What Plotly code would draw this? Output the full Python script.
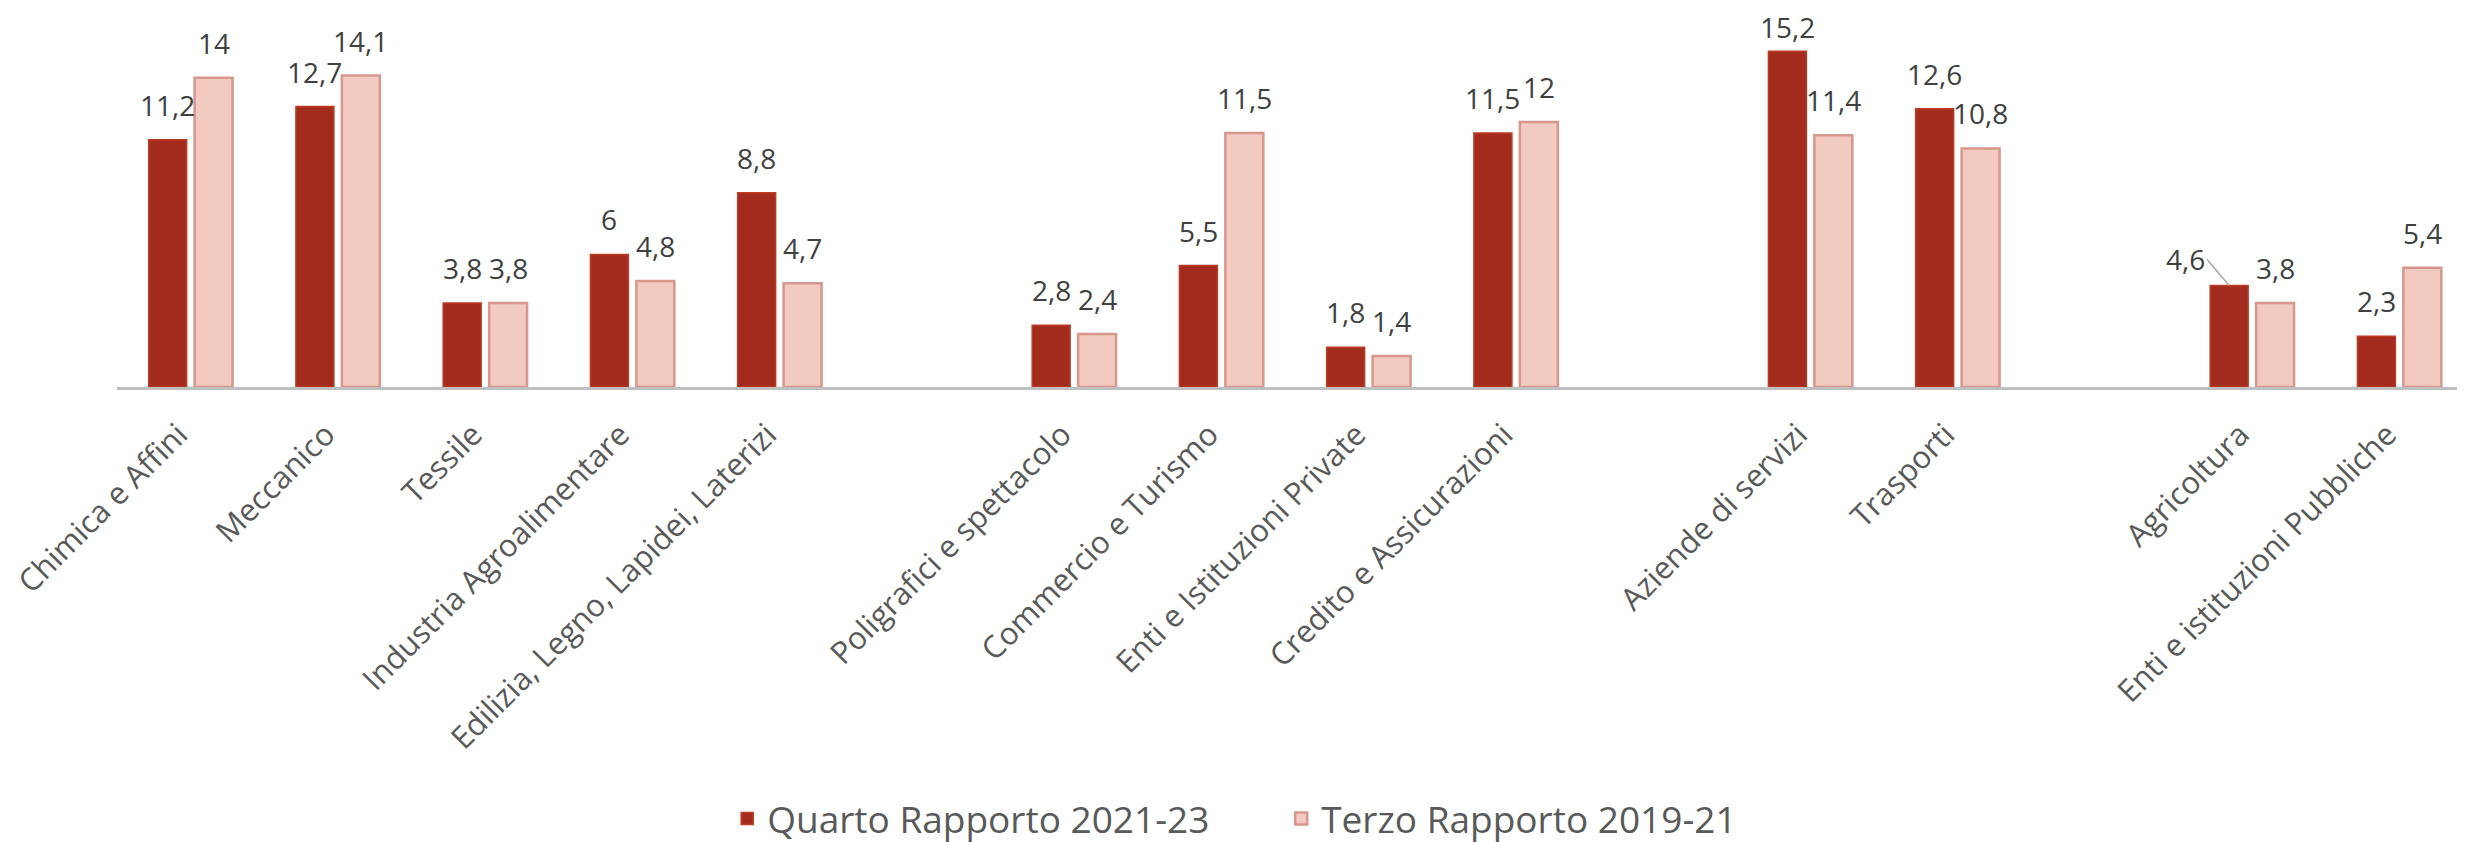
import plotly.graph_objects as go

categories = ["Chimica e Affini", "Meccanico", "Tessile", "Industria Agroalimentare",
              "Edilizia, Legno, Lapidei, Laterizi", " ",
              "Poligrafici e spettacolo", "Commercio e Turismo", "Enti e Istituzioni Private",
              "Credito e Assicurazioni", "  ",
              "Aziende di servizi", "Trasporti", "   ",
              "Agricoltura", "Enti e istituzioni Pubbliche"]
quarto = [11.2, 12.7, 3.8, 6, 8.8, None, 2.8, 5.5, 1.8, 11.5, None, 15.2, 12.6, None, 4.6, 2.3]
terzo = [14, 14.1, 3.8, 4.8, 4.7, None, 2.4, 11.5, 1.4, 12, None, 11.4, 10.8, None, 3.8, 5.4]
series_names = ["Quarto Rapporto 2021-23", "Terzo Rapporto 2019-21"]

def fmt(v):
    return ("%g" % v).replace(".", ",")

fig = go.Figure()
fig.add_trace(go.Bar(x=categories, y=quarto, name=series_names[0],
                     marker=dict(color="#A42C1E", line=dict(color="#BC3A22", width=1.5))))
fig.add_trace(go.Bar(x=categories, y=terzo, name=series_names[1],
                     marker=dict(color="#F2CABF", line=dict(color="#D7978D", width=2.5))))

lab_font = dict(family="Open Sans", size=28, color="#404040")
ann = []
for shift, vals in ((-23, quarto), (23, terzo)):
    for c, v in zip(categories, vals):
        if v is None:
            continue
        if c == "Agricoltura" and shift < 0:
            ann.append(dict(x=c, y=v, xref="x", yref="y", text=fmt(v), xshift=shift,
                            showarrow=True, arrowhead=0, arrowwidth=1.5, arrowcolor="#A6A6A6",
                            standoff=0, ax=-22, ay=-26, xanchor="right", yanchor="middle",
                            font=lab_font))
            continue
        ann.append(dict(x=c, y=v, xref="x", yref="y", text=fmt(v), xshift=shift,
                        yshift=3 if v > 15 else 14, showarrow=False, yanchor="bottom",
                        font=lab_font))

fig.update_layout(
    width=2465, height=842,
    margin=dict(l=106, r=0, t=0, b=458),
    paper_bgcolor="white", plot_bgcolor="white",
    barmode="group", bargap=0.376, bargroupgap=0.174,
    annotations=ann,
    showlegend=True,
    legend=dict(orientation="h", x=0.259, xanchor="left", y=-1.14, yanchor="middle",
                font=dict(family="Open Sans", size=37, color="#595959"),
                entrywidth=509, entrywidthmode="pixels", itemwidth=30),
    font=dict(family="Open Sans", color="#595959"),
)
fig.update_xaxes(type="category", categoryorder="array", categoryarray=categories,
                 tickangle=-45, tickfont=dict(family="Open Sans", size=31, color="#595959"),
                 ticklabelstandoff=14, ticklabelshift=-12,
                 showline=True, linecolor="#BFBFBF", linewidth=3, showgrid=False,
                 ticks="", zeroline=False)
fig.update_yaxes(range=[0, 17.16], visible=False, showgrid=False, zeroline=False)

fig.write_html("out.html")
